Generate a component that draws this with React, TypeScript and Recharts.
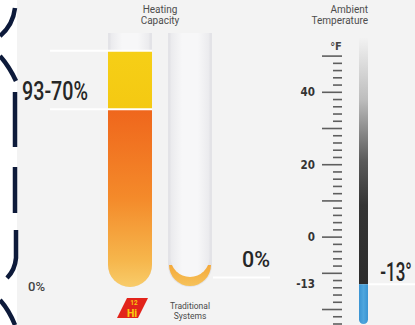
import React from 'react';
import { BarChart, Bar, XAxis, YAxis, ReferenceLine } from 'recharts';

// ---- data ----
const systems = ['12Hi', 'Traditional Systems'];
const capacityTop = [93, 0];
const capacityBase = [70, 0];
const capacityMax = [100, 100];

const tempTickMarks = [
  50, 48, 46, 44, 42, 40, 38, 36, 34, 32, 30, 28, 26, 24, 22, 20, 18, 16, 14, 12, 10,
  8, 6, 4, 2, 0, -2, -4, -6, -8, -10, -12, -14, -16, -18, -20, -22, -24,
];
const tempTickLabels = [40, 20, 0];
const ambientTemp = -13;
const tempDomain: [number, number] = [-24, 55];

const capacityData = systems.map((name, i) => ({
  name,
  track: capacityMax[i],
  base: capacityBase[i],
  band: capacityTop[i] - capacityBase[i],
}));

const thermoData = [
  { name: 'ambient', warm: [ambientTemp, tempDomain[1]], cold: [tempDomain[0], ambientTemp] },
];

const condensed = '"DejaVu Sans Condensed", "Roboto Condensed", "Liberation Sans Narrow", Roboto, sans-serif';
const bigFont = 'Roboto, "Noto Sans", sans-serif';
const sans = 'Roboto, "Noto Sans", sans-serif';

// ---- shapes ----
const TubeShape = (p: any) => {
  const { x, y, width: w, height: h } = p;
  const b = y + h;
  const r = w / 2;
  const outer = `M${x},${y} L${x + w},${y} L${x + w},${b - r} A${r},${r} 0 0 1 ${x},${b - r} Z`;
  const ix = x + 2.5;
  const iw = w - 5;
  const ir = iw / 2;
  const ib = b - 10;
  const inner = `M${ix},${y} L${ix + iw},${y} L${ix + iw},${ib - ir} A${ir},${ir} 0 0 1 ${ix},${ib - ir} Z`;
  return (
    <g>
      <path d={outer} fill="#e3e3e7" />
      <path d={`M${x + 1},${b - r} A${r - 1},${r - 1} 0 0 0 ${x + w - 1},${b - r} Z`} fill="url(#capBulb)" />
      <path d={inner} fill="url(#tubeInner)" />
    </g>
  );
};

const SystemTick = (p: any) => {
  const { x, y, payload } = p;
  if (payload.value === systems[0]) {
    return (
      <g>
        <polygon
          points={`${x - 13},${y + 31} ${x - 3},${y + 11} ${x + 18},${y + 11} ${x + 8},${y + 31}`}
          fill="#e2231a"
        />
        <text x={x + 4} y={y + 17.5} fontSize={6.5} fontWeight={700} fill="#f9c80e" textAnchor="middle" fontFamily={sans}>
          12
        </text>
        <text x={x + 2} y={y + 29.5} fontSize={10.5} fontWeight={800} fill="#f9c80e" textAnchor="middle" fontFamily={sans}>
          Hi
        </text>
      </g>
    );
  }
  const parts = String(payload.value).split(' ');
  return (
    <text textAnchor="middle" fontSize={8.5} fill="#4a4a4a" fontFamily={sans}>
      <tspan x={x} y={y + 22}>{parts[0]}</tspan>
      <tspan x={x} y={y + 32}>{parts[1]}</tspan>
    </text>
  );
};

const TempTick = (p: any) => {
  const { x, y, payload } = p;
  const v = payload.value;
  const onGrid = tempTickMarks.includes(v);
  const long = v % 10 === 0;
  const labelled = tempTickLabels.includes(v) || v === ambientTemp;
  return (
    <g>
      {onGrid && (
        <line x1={x - (long ? 20 : 9)} x2={x} y1={y} y2={y} stroke="#5e5e5e" strokeWidth={1.6} />
      )}
      {labelled && (
        <text x={x - 27} y={y} dy={4} textAnchor="end" fontSize={11.5} fontWeight={600} fill="#333" fontFamily={condensed}>
          {v}
        </text>
      )}
    </g>
  );
};

const CapacityRule = (p: any) => (
  <line x1={p.x1 - 50} y1={p.y1} x2={p.x1 + 52} y2={p.y2} stroke="#ffffff" strokeWidth={2} />
);

const AmbientRule = (p: any) => (
  <line x1={p.x1 + 26} y1={p.y1} x2={p.x2 + 30} y2={p.y2} stroke="#ffffff" strokeWidth={2} />
);

export default function App() {
  return (
    <div
      style={{
        position: 'fixed',
        left: 0,
        top: 0,
        width: 415,
        height: 325,
        background: '#f3f3f3',
        overflow: 'hidden',
      }}
    >
      <div style={{ position: 'absolute', left: 0, top: 0, width: 17, height: 325, background: '#ffffff' }} />
      <svg width={415} height={325} style={{ position: 'absolute', left: 0, top: 0 }}>
        <g stroke="#0d1a3a" strokeWidth={4.5} fill="none" strokeLinecap="butt">
          <path d="M15,8 Q13,25 0,36" />
          <path d="M0,56 Q9,66 16,81" />
          <path d="M15,92 L15,147" />
          <path d="M15,167 L15,213" />
          <path d="M16,230 L16,258 Q15,270 7,278" />
          <path d="M0,300 Q9,310 15,325" />
        </g>
      </svg>

      <div style={{ position: 'absolute', left: 0, top: 0 }}>
        <BarChart
          width={415}
          height={325}
          data={capacityData}
          margin={{ top: 33, right: 195, bottom: 8, left: 100 }}
          barSize={44}
        >
          <defs>
            <linearGradient id="orangeFill" x1="0" y1="0" x2="0" y2="1">
              <stop offset="0%" stopColor="#ef661c" />
              <stop offset="50%" stopColor="#f48a2a" />
              <stop offset="85%" stopColor="#f6b64c" />
              <stop offset="100%" stopColor="#f8cc6a" />
            </linearGradient>
            <linearGradient id="yellowFill" x1="0" y1="0" x2="0" y2="1">
              <stop offset="0%" stopColor="#f6cf17" />
              <stop offset="100%" stopColor="#f4c912" />
            </linearGradient>
            <linearGradient id="capBulb" x1="0" y1="0" x2="0" y2="1">
              <stop offset="0%" stopColor="#f4a93a" />
              <stop offset="100%" stopColor="#f6c25a" />
            </linearGradient>
            <linearGradient id="tubeInner" x1="0" y1="0" x2="1" y2="0">
              <stop offset="0%" stopColor="#eaeaed" />
              <stop offset="30%" stopColor="#f7f7f8" />
              <stop offset="70%" stopColor="#f7f7f8" />
              <stop offset="100%" stopColor="#eaeaed" />
            </linearGradient>
          </defs>
          <XAxis xAxisId="track" dataKey="name" hide />
          <XAxis
            xAxisId="fill"
            dataKey="name"
            height={30}
            axisLine={false}
            tickLine={false}
            tickSize={0}
            tickMargin={0}
            interval={0}
            tick={<SystemTick />}
          />
          <YAxis domain={[0, 100]} hide />
          <Bar xAxisId="track" dataKey="track" shape={<TubeShape />} isAnimationActive={false} />
          <Bar
            xAxisId="fill"
            dataKey="base"
            stackId="cap"
            fill="url(#orangeFill)"
            radius={[0, 0, 22, 22]}
            isAnimationActive={false}
          />
          <Bar xAxisId="fill" dataKey="band" stackId="cap" fill="url(#yellowFill)" isAnimationActive={false} />
          <ReferenceLine xAxisId="fill" y={capacityTop[0]} shape={<CapacityRule />} />
          <ReferenceLine xAxisId="fill" y={capacityBase[0]} shape={<CapacityRule />} />
        </BarChart>
      </div>

      <div style={{ position: 'absolute', left: 0, top: 0 }}>
        <BarChart
          width={415}
          height={325}
          data={thermoData}
          margin={{ top: 38, right: 30, bottom: 1, left: 312 }}
          barSize={9}
        >
          <defs>
            <linearGradient id="warmFill" x1="0" y1="0" x2="0" y2="1">
              <stop offset="0%" stopColor="#f2f2f2" />
              <stop offset="25%" stopColor="#bdbdbd" />
              <stop offset="50%" stopColor="#5a5a5a" />
              <stop offset="68%" stopColor="#343434" />
              <stop offset="100%" stopColor="#2c2c2c" />
            </linearGradient>
            <linearGradient id="coldFill" x1="0" y1="0" x2="1" y2="0">
              <stop offset="0%" stopColor="#3a94d2" />
              <stop offset="50%" stopColor="#4ea6de" />
              <stop offset="100%" stopColor="#3a94d2" />
            </linearGradient>
          </defs>
          <XAxis xAxisId="warm" dataKey="name" hide />
          <XAxis xAxisId="cold" dataKey="name" hide />
          <YAxis
            type="number"
            domain={tempDomain}
            ticks={[...tempTickMarks, ambientTemp]}
            width={30}
            axisLine={false}
            tickLine={false}
            tickSize={0}
            tickMargin={0}
            interval={0}
            allowDataOverflow
            tick={<TempTick />}
          />
          <Bar xAxisId="warm" dataKey="warm" fill="url(#warmFill)" isAnimationActive={false} />
          <Bar
            xAxisId="cold"
            dataKey="cold"
            fill="url(#coldFill)"
            radius={[0, 0, 4.5, 4.5]}
            isAnimationActive={false}
          />
          <ReferenceLine xAxisId="warm" y={ambientTemp} shape={<AmbientRule />} />
        </BarChart>
      </div>

      <svg width={415} height={325} style={{ position: 'absolute', left: 0, top: 0, pointerEvents: 'none' }}>
        <g fontFamily={sans} fontSize={10} fill="#4d4d4d">
          <text x={160} y={13} textAnchor="middle">Heating</text>
          <text x={160} y={24} textAnchor="middle">Capacity</text>
          <text x={368} y={13} textAnchor="end">Ambient</text>
          <text x={368} y={24} textAnchor="end">Temperature</text>
        </g>
        <text x={336} y={50} textAnchor="middle" fontSize={11} fontWeight={600} fill="#444" fontFamily={condensed}>
          °F
        </text>
        <g fontFamily={bigFont} fill="#262626" fontWeight={500}>
          <text x={22} y={100} fontSize={25} textLength={66} lengthAdjust="spacingAndGlyphs">
            {`${capacityTop[0]}-${capacityBase[0]}%`}
          </text>
          <text x={242} y={267} fontSize={22} textLength={28} lengthAdjust="spacingAndGlyphs">
            {`${capacityTop[1]}%`}
          </text>
          <g transform="translate(396,281) scale(0.68,1)">
            <text x={0} y={0} fontSize={25} textAnchor="middle">
              {`${ambientTemp}°`}
            </text>
          </g>
          <text x={28} y={291} fontSize={12} fill="#444" textLength={17} lengthAdjust="spacingAndGlyphs">
            0%
          </text>
        </g>
        <line x1={213} y1={277.5} x2={270} y2={277.5} stroke="#ffffff" strokeWidth={2} />
      </svg>
    </div>
  );
}
